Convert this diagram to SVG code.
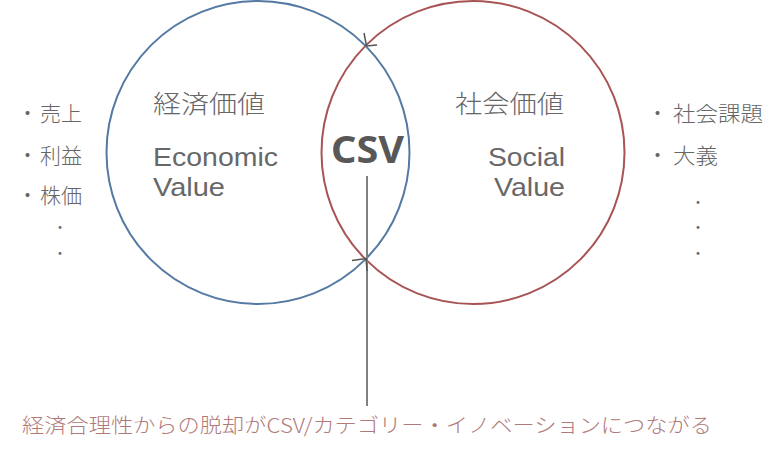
<svg xmlns="http://www.w3.org/2000/svg" width="784" height="452" viewBox="0 0 784 452">
<style>
.t{font-family:"Noto Sans CJK JP","Noto Sans",sans-serif;fill:#666666;font-weight:300;}
.h{font-size:25px;}
.e{font-family:"Liberation Sans",Arial,sans-serif;font-size:26px;fill:#686868;}
.l{font-size:21px;}
.d{font-size:15px;}
.csv{font-family:"Noto Sans","Noto Sans CJK JP",sans-serif;font-weight:bold;font-size:38px;fill:#585858;}
.cap{font-family:"Noto Sans CJK JP",sans-serif;font-weight:300;font-size:20px;fill:#b07a7a;}
.mk{stroke:#555;stroke-width:1.5;fill:none;}
</style>
<rect width="784" height="452" fill="#ffffff"/>
<g id="economic">
<circle cx="258" cy="152.5" r="151.5" fill="none" stroke="#5479a3" stroke-width="2"/>
<text class="t h" x="153" y="113" textLength="112" lengthAdjust="spacingAndGlyphs">経済価値</text>
<text class="e" x="153" y="166" textLength="125" lengthAdjust="spacingAndGlyphs">Economic</text>
<text class="e" x="153" y="196" textLength="72" lengthAdjust="spacingAndGlyphs">Value</text>
</g>
<g id="social">
<circle cx="473" cy="152.5" r="151.5" fill="none" stroke="#a85454" stroke-width="2"/>
<text class="t h" x="455" y="113" textLength="109" lengthAdjust="spacingAndGlyphs">社会価値</text>
<text class="e" x="488" y="166" textLength="77" lengthAdjust="spacingAndGlyphs">Social</text>
<text class="e" x="494" y="196" textLength="71" lengthAdjust="spacingAndGlyphs">Value</text>
</g>
<g id="csv">
<text class="csv" x="331" y="163" textLength="73" lengthAdjust="spacingAndGlyphs">CSV</text>
</g>
<g id="left-list">
<text class="t l" y="121"><tspan x="17">・</tspan><tspan x="40">売上</tspan></text>
<text class="t l" y="163"><tspan x="17">・</tspan><tspan x="40">利益</tspan></text>
<text class="t l" y="203"><tspan x="17">・</tspan><tspan x="40">株価</tspan></text>
<text class="t d" x="60" y="233" text-anchor="middle">・</text>
<text class="t d" x="60" y="259" text-anchor="middle">・</text>
</g>
<g id="right-list">
<text class="t l" y="121"><tspan x="647">・</tspan><tspan x="673" textLength="90" lengthAdjust="spacingAndGlyphs">社会課題</tspan></text>
<text class="t l" y="163"><tspan x="647">・</tspan><tspan x="673" textLength="45" lengthAdjust="spacingAndGlyphs">大義</tspan></text>
<text class="t d" x="698" y="208" text-anchor="middle">・</text>
<text class="t d" x="698" y="233" text-anchor="middle">・</text>
<text class="t d" x="698" y="259" text-anchor="middle">・</text>
</g>
<g id="connectors">
<line x1="367" y1="176" x2="367" y2="406" stroke="#808080" stroke-width="2"/>
<path class="mk" d="M364,33 L366.5,46 L377,45"/>
<path class="mk" d="M352,260.5 L366,258.5 L367,271"/>
</g>
<g id="caption">
<text class="cap" x="22" y="433" textLength="690" lengthAdjust="spacingAndGlyphs">経済合理性からの脱却がCSV/カテゴリー・イノベーションにつながる</text>
</g>
</svg>
